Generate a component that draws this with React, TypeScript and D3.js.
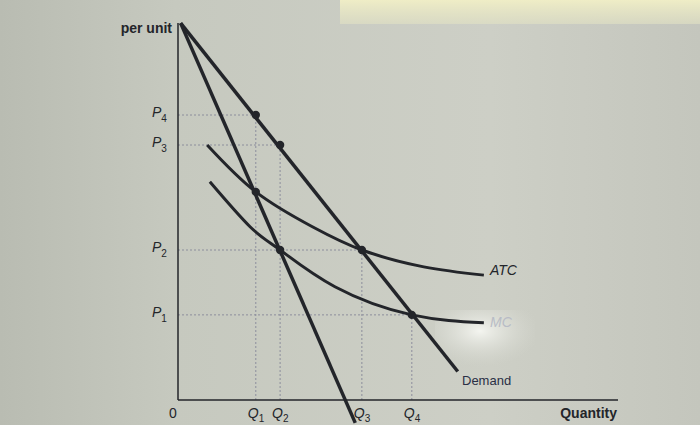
import React from "react";
import * as d3 from "d3";

const W = 700;
const H = 425;

// quantity / price in chart units (0..100 on both axes)
const qLabels = ["Q1", "Q2", "Q3", "Q4"];
const qValues = [17.6, 23.1, 41.6, 52.9];
const pLabels = ["P1", "P2", "P3", "P4"];
const pValues = [22.7, 40, 68, 76];

const demand = [[0.6, 100.5], [63.3, 7.6]];
const marginalRevenue = [[0.6, 100.5], [40.1, -6.1]];
const atc = [[6.6, 68], [17.6, 55.5], [30.4, 46.2], [41.6, 40], [55.6, 35.5], [69.2, 33.3]];
const mc = [[7.2, 58.2], [16.3, 46.2], [23.1, 40], [35.5, 30.2], [52.9, 22.7], [69.2, 20.6]];

// dots: [q, p]
const dots = [[17.6, 76], [23.1, 68], [17.6, 55.5], [23.1, 40], [41.6, 40], [52.9, 22.7]];
// dotted guides: horizontal (price, up to q) and vertical (q, up to price)
const hGuides = [[76, 17.6], [68, 23.1], [40, 41.6], [22.7, 52.9]];
const vGuides = [[17.6, 76], [23.1, 68], [41.6, 40], [52.9, 22.7]];

const App = () => {
    const x = d3.scaleLinear().domain([0, 100]).range([178, 620]);
    const y = d3.scaleLinear().domain([0, 100]).range([400, 25]);

    const straight = d3.line<number[]>().x((d) => x(d[0])).y((d) => y(d[1]));
    const curve = d3.line<number[]>()
        .x((d) => x(d[0]))
        .y((d) => y(d[1]))
        .curve(d3.curveNatural);

    const font = "'Liberation Sans', Arial, sans-serif";
    const ink = "#23252a";

    return (
        <svg width={W} height={H} style={{ position: "absolute", left: 0, top: 0 }} fontFamily={font}>
            <defs>
                <linearGradient id="bg" x1="0" x2="1" y1="0" y2="0">
                    <stop offset="0" stopColor="#b9bcb2" />
                    <stop offset="0.25" stopColor="#c6c9bf" />
                    <stop offset="0.7" stopColor="#cdcfc6" />
                    <stop offset="1" stopColor="#c4c6bd" />
                </linearGradient>
                <linearGradient id="glare" x1="0" x2="0" y1="0" y2="1">
                    <stop offset="0" stopColor="#efedc6" />
                    <stop offset="1" stopColor="#e2e2c4" stopOpacity="0.6" />
                </linearGradient>
                <radialGradient id="flash" cx="0.45" cy="0.35" r="0.6">
                    <stop offset="0" stopColor="#f4f5f0" />
                    <stop offset="1" stopColor="#d6d8d0" stopOpacity="0" />
                </radialGradient>
            </defs>
            <rect width={W} height={H} fill="url(#bg)" />
            <rect x={340} y={0} width={360} height={24} fill="url(#glare)" />
            <rect x={435} y={310} width={100} height={60} fill="url(#flash)" />

            {/* dotted guides */}
            <g stroke="#8c8e9c" strokeWidth={1} strokeDasharray="2,2">
                {hGuides.map((g, i) => (
                    <line key={`h${i}`} x1={x(0)} x2={x(g[1])} y1={y(g[0])} y2={y(g[0])} />
                ))}
                {vGuides.map((g, i) => (
                    <line key={`v${i}`} x1={x(g[0])} x2={x(g[0])} y1={y(0)} y2={y(g[1])} />
                ))}
            </g>

            {/* axes */}
            <line x1={x(0)} x2={x(0)} y1={y(0)} y2={23} stroke={ink} strokeWidth={1.5} />
            <line x1={x(0)} x2={618} y1={y(0)} y2={y(0)} stroke={ink} strokeWidth={1.5} />

            {/* curves */}
            <path d={curve(atc) || ""} fill="none" stroke={ink} strokeWidth={3} />
            <path d={curve(mc) || ""} fill="none" stroke={ink} strokeWidth={3} />
            <path d={straight(demand) || ""} fill="none" stroke={ink} strokeWidth={3.5} />
            <path d={straight(marginalRevenue) || ""} fill="none" stroke={ink} strokeWidth={3.5} />

            {dots.map((d, i) => (
                <circle key={i} cx={x(d[0])} cy={y(d[1])} r={4.2} fill={ink} />
            ))}

            {/* labels */}
            <text x={172} y={33} textAnchor="end" fontSize={14} fontWeight="bold" fill={ink}>per unit</text>
            <text x={173} y={418} textAnchor="middle" fontSize={14} fill={ink}>0</text>
            <text x={617} y={418} textAnchor="end" fontSize={14} fontWeight="bold" fill={ink}>Quantity</text>

            {pLabels.map((l, i) => (
                <text key={l} x={152} y={y(pValues[i]) + 2} fontSize={14} fontStyle="italic" fill={ink}>
                    {l[0]}
                    <tspan fontSize={10} fontStyle="normal" dy={5}>{l.slice(1)}</tspan>
                </text>
            ))}
            {qLabels.map((l, i) => (
                <text key={l} x={x(qValues[i]) - 8} y={418} fontSize={14} fontStyle="italic" fill={ink}>
                    {l[0]}
                    <tspan fontSize={10} fontStyle="normal" dy={4}>{l.slice(1)}</tspan>
                </text>
            ))}

            <text x={490} y={275} fontSize={14} fontStyle="italic" fill={ink}>ATC</text>
            <text x={490} y={327} fontSize={14} fontStyle="italic" fill="#b8bcc6">MC</text>
            <text x={462} y={385} fontSize={13} fill="#2a2f45">Demand</text>
        </svg>
    );
};

export default App;
